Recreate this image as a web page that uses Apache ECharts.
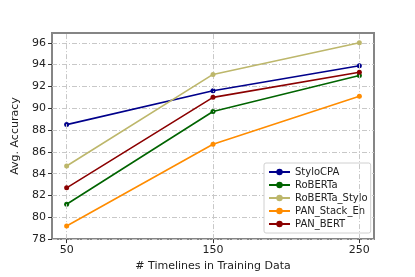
<!DOCTYPE html>
<html><head><meta charset="utf-8">
<script src="https://cdn.jsdelivr.net/npm/echarts@6/dist/echarts.min.js"></script>
<style>html,body{margin:0;padding:0;background:#fff}#c{width:415px;height:277px}</style>
</head><body><div id="c"></div>
<script>
const xValues = [50, 150, 250];
const seriesNames = ['StyloCPA', 'RoBERTa', 'RoBERTa_Stylo', 'PAN_Stack_En', 'PAN_BERT'];
const styloCPA = [88.5, 91.6, 93.9];
const roberta = [81.2, 89.7, 93.0];
const robertaStylo = [84.7, 93.1, 96.0];
const panStackEn = [79.2, 86.7, 91.1];
const panBert = [82.7, 91.0, 93.3];
const yTicks = [78, 80, 82, 84, 86, 88, 90, 92, 94, 96];
const colors = ['#00008b', '#006400', '#bdb76b', '#ff8c00', '#8b0000'];
const allValues = [styloCPA, roberta, robertaStylo, panStackEn, panBert];
const font = 'DejaVu Sans';
const gridLine = {color: '#c8c8c8', width: 1, type: [5, 2, 1, 2]};

const series = seriesNames.map((n, i) => ({
  name: n, type: 'line',
  data: xValues.map((x, j) => [x, allValues[i][j]]),
  symbol: 'circle', symbolSize: 5,
  lineStyle: {width: 1.6, color: colors[i]},
  itemStyle: {color: colors[i]},
  z: 3 + i
}));
series.push({
  type: 'line', data: [], silent: true,
  markLine: {
    silent: true, symbol: 'none', label: {show: false},
    lineStyle: gridLine, animation: false,
    data: xValues.map(x => ({xAxis: x}))
  }
});

const chart = echarts.init(document.getElementById('c'), null, {renderer: 'canvas'});
chart.setOption({
  animation: false,
  color: colors,
  grid: {left: 52, top: 33, right: 41, bottom: 35, show: true, borderColor: '#858585', borderWidth: 2, backgroundColor: '#fff'},
  xAxis: {
    type: 'value', min: 40, max: 260,
    name: '# Timelines in Training Data', nameLocation: 'middle', nameGap: 18,
    nameTextStyle: {fontFamily: font, fontSize: 11, color: '#222'},
    axisLine: {show: false},
    splitLine: {show: false},
    axisTick: {show: true, length: 4, customValues: xValues, lineStyle: {color: '#333'}},
    axisLabel: {customValues: xValues, fontFamily: font, fontSize: 11, color: '#222', margin: 6}
  },
  yAxis: {
    type: 'value', min: 78, max: 96.9, interval: 2,
    name: 'Avg. Accuracy', nameLocation: 'middle', nameGap: 29,
    nameTextStyle: {fontFamily: font, fontSize: 11, color: '#222'},
    axisLine: {show: false},
    splitLine: {show: true, lineStyle: gridLine},
    axisTick: {show: true, length: 4, customValues: yTicks, lineStyle: {color: '#333'}},
    axisLabel: {customValues: yTicks, fontFamily: font, fontSize: 11, color: '#222', margin: 6}
  },
  legend: {
    data: seriesNames, orient: 'vertical', left: 264, top: 163,
    itemWidth: 21, itemHeight: 8, itemGap: 3,
    padding: [4, 3, 4, 4],
    backgroundColor: '#fff', borderColor: '#d0d0d0', borderWidth: 1, borderRadius: 2,
    textStyle: {fontFamily: font, fontSize: 10, color: '#222'}
  },
  series: series
});
</script></body></html>
